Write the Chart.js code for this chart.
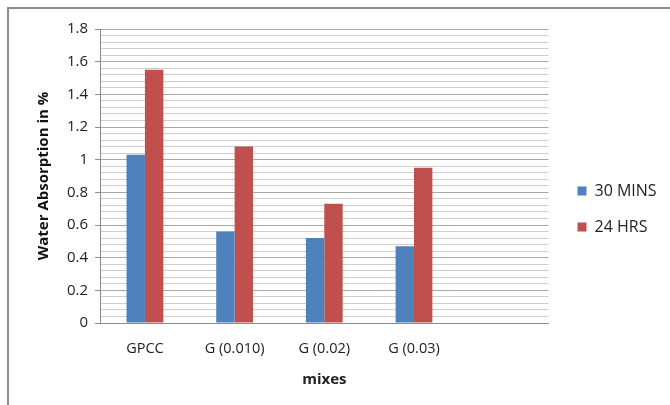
<!DOCTYPE html>
<html>
<head>
<meta charset="utf-8">
<script src="https://cdn.jsdelivr.net/npm/chart.js@4.4.0/dist/chart.umd.min.js"></script>
<style>
  html, body { margin: 0; padding: 0; background: #fff; }
  #wrap { position: relative; width: 670px; height: 405px; overflow: hidden; }
  #frame { position: absolute; left: 7px; top: 7px; width: 700px; height: 450px;
           border-left: 2px solid #8c8c8c; border-top: 2px solid #8c8c8c; }
  canvas { position: absolute; left: 0; top: 0; }
</style>
</head>
<body>
<div id="wrap">
  <div id="frame"></div>
  <canvas id="myChart" width="670" height="405"></canvas>
</div>
<script>
// Data
    var mixes = ['GPCC', 'G (0.010)', 'G (0.02)', 'G (0.03)', ''];
    var mins30 = [1.03, 0.56, 0.52, 0.47, null];
    var hrs24 = [1.55, 1.08, 0.73, 0.95, null];
    var yMax = 1.8;
    var yMajor = 0.2;
    var yMinor = 0.04;

function isMajor(v){
    var r = v / yMajor;
    return Math.abs(r - Math.round(r)) < 1e-6;
}

var fontFamily = '"Open Sans", "Liberation Sans", sans-serif';

var ctx = document.getElementById('myChart').getContext('2d');
var waterChart = new Chart(ctx, {
    type: 'bar',
    data: {
        labels: mixes,
        datasets: [{
            label: '30 MINS',
            data: mins30,
            backgroundColor: '#4f81bd',
            categoryPercentage: 0.41,
            barPercentage: 1.0
        }, {
            label: '24 HRS',
            data: hrs24,
            backgroundColor: '#c0504d',
            categoryPercentage: 0.41,
            barPercentage: 1.0
        }]
    },
    options: {
        responsive: false,
        animation: false,
        layout: { padding: { top: 29, bottom: 16, left: 35, right: 8 } },
        plugins: {
            legend: {
                position: 'right',
                labels: {
                    boxWidth: 9,
                    boxHeight: 9,
                    padding: 20,
                    color: '#222',
                    font: { family: fontFamily, size: 16 }
                }
            },
            tooltip: { enabled: false }
        },
        scales: {
            x: {
                grid: { display: false, drawTicks: false },
                border: { display: true, color: '#8c8c8c', width: 1 },
                ticks: { color: '#222', padding: 17, font: { family: fontFamily, size: 14.5 } },
                title: { display: true, text: 'mixes', color: '#222', padding: { top: 0, bottom: 0 },
                         font: { family: fontFamily, size: 15, weight: 'bold' } },
                afterFit: function(scale){ scale.height = 66; }
            },
            y: {
                min: 0,
                max: yMax,
                border: { display: true, color: '#8c8c8c', width: 1 },
                grid: {
                    color: function(c){ return isMajor(c.tick.value) ? '#a8a8a8' : '#cfcfcf'; },
                    tickColor: function(c){ return isMajor(c.tick.value) ? '#8c8c8c' : 'rgba(0,0,0,0)'; },
                    tickLength: 5
                },
                ticks: {
                    stepSize: yMinor,
                    autoSkip: false,
                    padding: 7,
                    color: '#222',
                    font: { family: fontFamily, size: 15 },
                    callback: function(v){
                        if (!isMajor(v)) return '';
                        return String(Number(v.toFixed(1)));
                    }
                },
                title: { display: true, text: 'Water Absorption in %', color: '#111', padding: { top: 0, bottom: 7 },
                         font: { family: fontFamily, size: 15, weight: 'bold' } }
            },
            // empty spacer between plot and legend
            gap: {
                type: 'linear',
                position: 'right',
                display: true,
                grid: { display: false, drawTicks: false },
                border: { display: false },
                ticks: { display: false },
                afterFit: function(scale){ scale.width = 9; }
            }
        }
    }
});
</script>
</body>
</html>
